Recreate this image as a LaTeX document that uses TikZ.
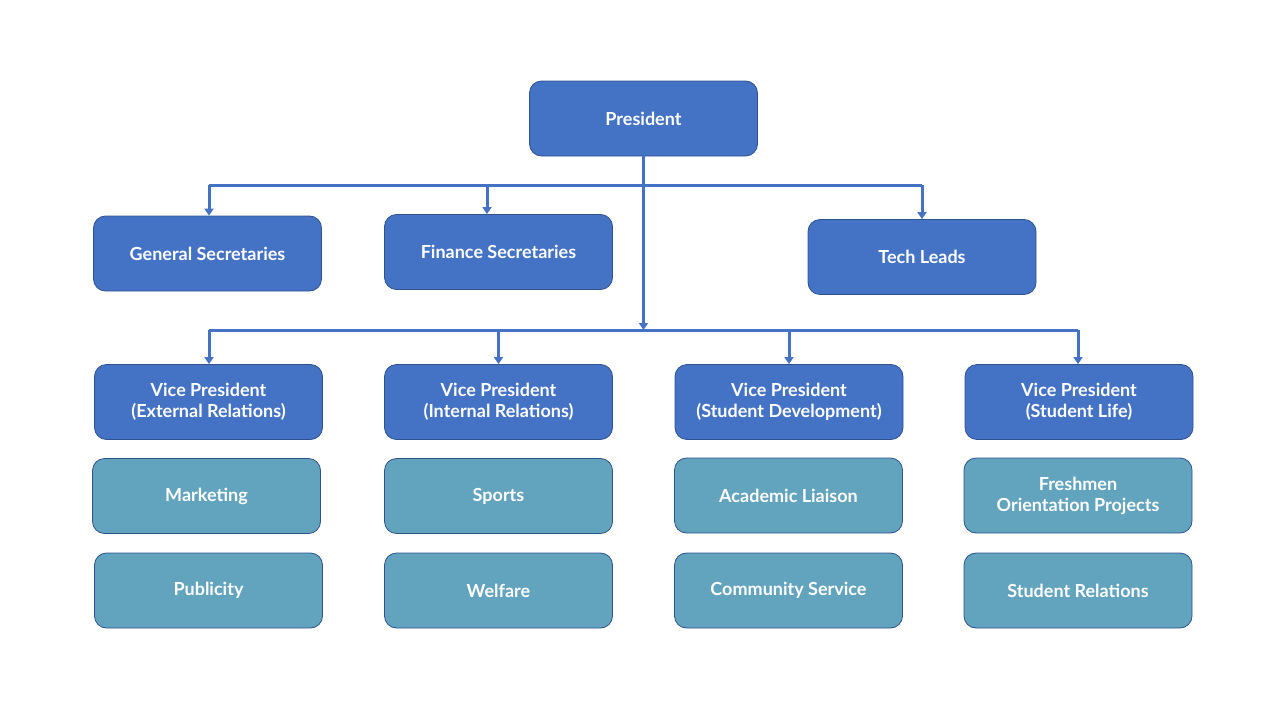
\documentclass[tikz,border=0pt]{standalone}
\usepackage{fontspec}
\setmainfont{Lato}
\usepackage{xcolor}
\usetikzlibrary{arrows.meta}
\definecolor{boxblue}{HTML}{4472C4}
\definecolor{boxline}{HTML}{2F528F}
\definecolor{boxteal}{HTML}{62A3BE}
\tikzset{
  lead/.style={draw=boxline, fill=boxblue, rounded corners=12pt, line width=0.8pt,
    minimum width=228pt, minimum height=75pt, text=white, align=center,
    font=\fontsize{18}{21}\selectfont\bfseries},
  unit/.style={lead, fill=boxteal},
  link/.style={draw=boxblue, line width=3pt},
  arr/.style={link, -{Triangle[length=7pt,width=9pt]}}
}
\begin{document}
\begin{tikzpicture}[x=1pt,y=-1pt]
    \useasboundingbox (0,0) rectangle (1280,720);
    \node[lead] (pres) at (643.5,118.5) {President};
    \node[lead] (gensec) at (207.5,253.5) {General Secretaries};
    \node[lead] (finsec) at (498.5,252) {Finance Secretaries};
    \node[lead] (tech) at (922,257) {Tech Leads};
    \node[lead] (vpext) at (208.5,402) {Vice President\\(External Relations)};
    \node[lead] (vpint) at (498.5,402) {Vice President\\(Internal Relations)};
    \node[lead] (vpdev) at (789,402) {Vice President\\(Student Development)};
    \node[lead] (vplife) at (1079,402) {Vice President\\(Student Life)};
    \node[unit] (mkt) at (206.5,496) {Marketing};
    \node[unit] (sport) at (498.5,496) {Sports};
    \node[unit] (acad) at (788.5,495.5) {Academic Liaison};
    \node[unit] (fresh) at (1078,495.5) {Freshmen\\Orientation Projects};
    \node[unit] (pub) at (208.5,590.5) {Publicity};
    \node[unit] (welf) at (498.5,590.5) {Welfare};
    \node[unit] (comm) at (788.5,590.5) {Community Service};
    \node[unit] (srel) at (1078,590.5) {Student Relations};
    % secretaries bar
    \coordinate (secleft) at (209,185);
    \coordinate (secmid) at (487,185);
    \coordinate (secright) at (922,185);
    \draw[link] (secleft) -- (secright);
    \draw[arr] (secleft) -- (secleft |- gensec.north);
    \draw[arr] (secmid) -- (secmid |- finsec.north);
    \draw[arr] (secright) -- (tech.north);
    % vice presidents bar
    \coordinate (vpbar) at (643.5,330);
    \coordinate (vpleft) at (209,330);
    \coordinate (vpright) at (1078,330);
    \draw[arr] (pres.south) -- (vpbar);
    \draw[link] (vpleft) -- (vpright);
    \draw[arr] (vpleft) -- (vpleft |- vpext.north);
    \draw[arr] (vpint.north |- vpbar) -- (vpint.north);
    \draw[arr] (vpdev.north |- vpbar) -- (vpdev.north);
    \draw[arr] (vpright) -- (vpright |- vplife.north);
  \end{tikzpicture}
\end{document}
